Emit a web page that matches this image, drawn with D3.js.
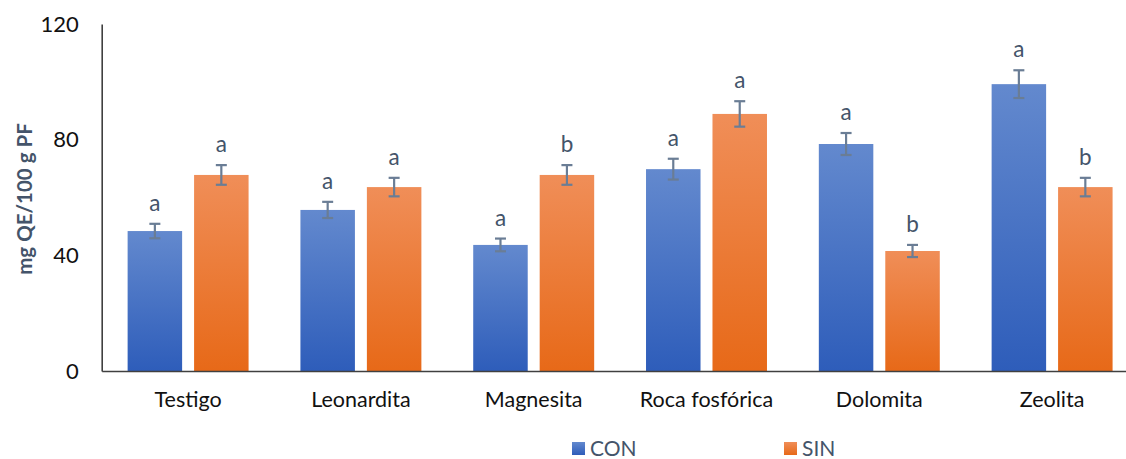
<!DOCTYPE html>
<html>
<head>
<meta charset="utf-8">
<script src="https://cdn.jsdelivr.net/npm/d3@7/dist/d3.min.js"></script>
<style>
  html, body { margin: 0; padding: 0; background: #fff; }
  svg { display: block; font-family: Lato, "Open Sans", sans-serif; }
</style>
</head>
<body>
<svg id="chart" width="1126" height="459"></svg>
<script>
const categories = ["Testigo", "Leonardita", "Magnesita", "Roca fosfórica", "Dolomita", "Zeolita"];
const seriesNames = ["CON", "SIN"];
const conValues = [48.4, 55.7, 43.6, 69.8, 78.5, 99.2];
const sinValues = [67.8, 63.6, 67.8, 88.9, 41.5, 63.6];
const conErrors = [2.5, 2.8, 2.2, 3.6, 3.8, 4.8];
const sinErrors = [3.4, 3.2, 3.4, 4.4, 2.1, 3.2];
const conLetters = ["a", "a", "a", "a", "a", "a"];
const sinLetters = ["a", "a", "b", "a", "b", "b"];
const yTicks = [0, 40, 80, 120];
const yLabel = "mg QE/100 g PF";

const svg = d3.select("#chart");
const mLeft = 101.7, mRight = 1138.5, mTop = 24, mBottom = 371;

const defs = svg.append("defs");
const grads = {
  CON: ["#6389CE", "#2E5DBA"],
  SIN: ["#F08E58", "#E76918"]
};
seriesNames.forEach(s => {
  const g = defs.append("linearGradient").attr("id", "g" + s)
    .attr("x1", 0).attr("y1", 0).attr("x2", 0).attr("y2", 1);
  g.append("stop").attr("offset", "0%").attr("stop-color", grads[s][0]);
  g.append("stop").attr("offset", "100%").attr("stop-color", grads[s][1]);
});

const x0 = d3.scaleBand().domain(categories).range([mLeft, mRight])
  .paddingInner(0.3).paddingOuter(0.15);
const x1 = d3.scaleBand().domain(seriesNames).range([0, x0.bandwidth()]).paddingInner(0.18);
const y = d3.scaleLinear().domain([0, 120]).range([mBottom, mTop]);

const data = [];
categories.forEach((c, i) => {
  data.push({cat: c, s: "CON", v: conValues[i], e: conErrors[i], l: conLetters[i]});
  data.push({cat: c, s: "SIN", v: sinValues[i], e: sinErrors[i], l: sinLetters[i]});
});

// bars
svg.append("g").selectAll("rect").data(data).join("rect")
  .attr("x", d => x0(d.cat) + x1(d.s))
  .attr("width", x1.bandwidth())
  .attr("y", d => y(d.v))
  .attr("height", d => y(0) - y(d.v))
  .attr("fill", d => `url(#g${d.s})`);

// error bars
const eg = svg.append("g").attr("stroke", "#6A7D95").attr("stroke-width", 2.2);
data.forEach(d => {
  const cx = x0(d.cat) + x1(d.s) + x1.bandwidth() / 2;
  eg.append("line").attr("x1", cx).attr("x2", cx).attr("y1", y(d.v + d.e)).attr("y2", y(d.v - d.e));
  eg.append("line").attr("x1", cx - 5.5).attr("x2", cx + 5.5).attr("y1", y(d.v + d.e)).attr("y2", y(d.v + d.e));
  eg.append("line").attr("x1", cx - 5.5).attr("x2", cx + 5.5).attr("y1", y(d.v - d.e)).attr("y2", y(d.v - d.e));
});

// letters
svg.append("g").selectAll("text").data(data).join("text")
  .attr("x", d => x0(d.cat) + x1(d.s) + x1.bandwidth() / 2)
  .attr("y", d => y(d.v + d.e) - 13)
  .attr("text-anchor", "middle")
  .attr("font-size", 22.5)
  .attr("fill", "#44546A")
  .text(d => d.l);

// y axis
const yAxis = d3.axisLeft(y).tickValues(yTicks).tickSize(0).tickPadding(23);
const ya = svg.append("g").attr("transform", `translate(${mLeft},0)`).call(yAxis);
ya.select(".domain").attr("stroke", "#404040").attr("stroke-width", 1.6);
ya.selectAll("text").attr("font-size", 22).attr("fill", "#111").attr("font-family", "Lato, sans-serif");

// x axis
const xAxis = d3.axisBottom(x0).tickSize(0).tickPadding(21);
const xa = svg.append("g").attr("transform", `translate(0,${mBottom})`).call(xAxis);
xa.select(".domain").attr("stroke", "#404040").attr("stroke-width", 1.6);
xa.selectAll("text").attr("font-size", 21.5).attr("fill", "#111").attr("font-family", "Lato, sans-serif");

// y label
svg.append("text")
  .attr("transform", `translate(32,199) rotate(-90)`)
  .attr("text-anchor", "middle")
  .attr("font-size", 20.5)
  .attr("font-weight", "bold")
  .attr("fill", "#44546A")
  .text(yLabel);

// legend
const legendX = [572, 784];
const lg = svg.append("g");
seriesNames.forEach((s, i) => {
  lg.append("rect").attr("x", legendX[i]).attr("y", 442).attr("width", 13).attr("height", 13)
    .attr("fill", `url(#g${s})`);
  lg.append("text").attr("x", legendX[i] + 18).attr("y", 456)
    .attr("font-size", 21).attr("fill", "#44546A").text(s);
});
</script>
</body>
</html>
